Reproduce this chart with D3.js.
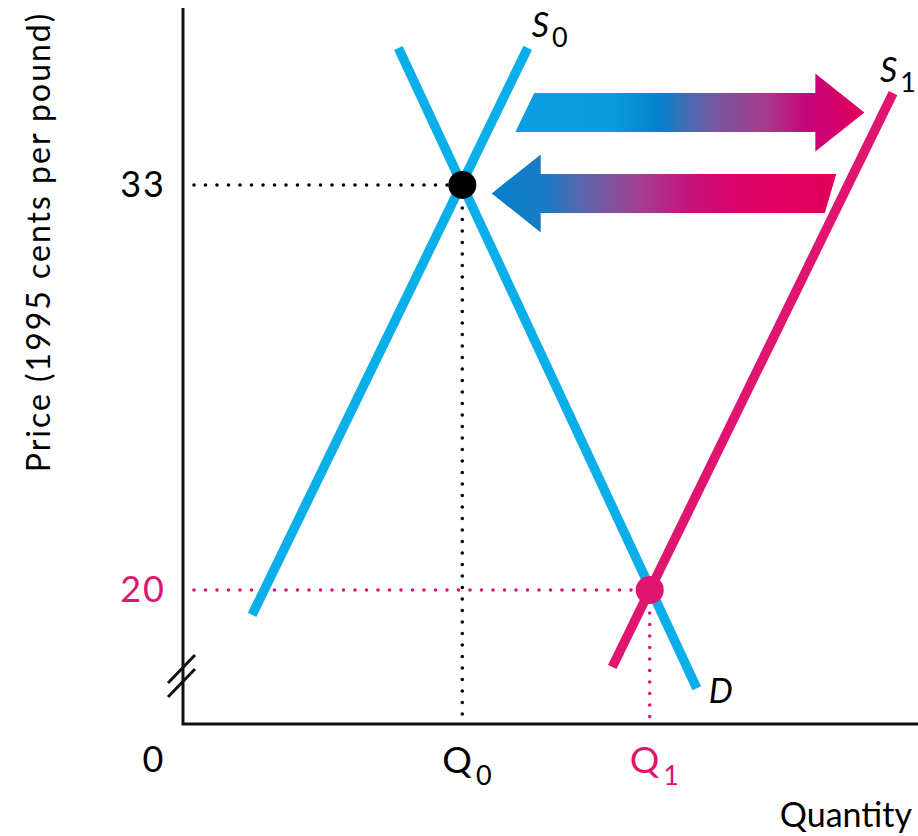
<!DOCTYPE html>
<html>
<head>
<meta charset="utf-8">
<script src="https://cdn.jsdelivr.net/npm/d3@7"></script>
<style>
  html, body { margin: 0; padding: 0; background: #fff; }
  svg { display: block; font-family: Lato, "Open Sans", sans-serif; }
</style>
</head>
<body>
<svg id="chart" width="918" height="836"></svg>
<script>
// Price axis tick labels and the two equilibria
const priceTicks = [33, 20];
const equilibria = [
  { name: "Q0", sub: "0", q: 3.8,  p: 33, color: "#000000" },
  { name: "Q1", sub: "1", q: 6.35, p: 20, color: "#e0156f" }
];

// Curves as [quantity, price] end points
const supply0 = [[0.94, 19.2], [4.69, 37.4]];
const demand  = [[2.93, 37.4], [6.99, 16.85]];
const supply1 = [[5.84, 17.53], [9.66, 35.95]];

// Shift arrows: tail quantity, tip quantity, price at the arrow's centre line
const arrowRight = { from: 4.65, to: 9.27, p: 35.33 };
const arrowLeft  = { from: 8.81, to: 4.20, p: 32.73 };

const cyan = "#0aaee8";
const pink = "#e0156f";

const svg = d3.select("#chart");

// Scales (price axis is broken below ~15.7)
const x = d3.scaleLinear().domain([0, 10]).range([183, 918]);
const y = d3.scaleLinear().domain([15.7, 38.68]).range([724, 8]);

// Gradients for the arrows
const defs = svg.append("defs");
function gradient(id, x1, x2, stops) {
  const g = defs.append("linearGradient").attr("id", id)
    .attr("gradientUnits", "userSpaceOnUse")
    .attr("x1", x1).attr("x2", x2).attr("y1", 0).attr("y2", 0);
  stops.forEach(([o, c]) => g.append("stop").attr("offset", o).attr("stop-color", c));
}
gradient("gradRight", x(arrowRight.from) - 10, x(arrowRight.to), [
  [0, "#0a9fe0"], [0.28, "#0a9be0"], [0.42, "#0580ca"], [0.48, "#3c70b6"],
  [0.58, "#7a55a0"], [0.72, "#a83a8a"], [0.84, "#c6037a"], [1, "#e3005c"]
]);
gradient("gradLeft", x(arrowLeft.to), x(arrowLeft.from) + 10, [
  [0, "#0580ca"], [0.16, "#1a7bc4"], [0.26, "#5a66ad"], [0.42, "#a24092"],
  [0.58, "#c80f7a"], [0.75, "#e00066"], [1, "#e3005a"]
]);

// Arrow outline: shaft with a slanted tail, triangular head
function arrowPath(a, slant) {
  const shaftH = 39, headH = 78, headL = 49;
  const cy = y(a.p), x0 = x(a.from), x1 = x(a.to);
  const dir = x1 > x0 ? 1 : -1;
  const base = x1 - dir * headL;
  const s = slant * shaftH / 2;
  const pts = [
    [x0 + s, cy - shaftH / 2],
    [base, cy - shaftH / 2],
    [base, cy - headH / 2],
    [x1, cy],
    [base, cy + headH / 2],
    [base, cy + shaftH / 2],
    [x0 - s, cy + shaftH / 2]
  ];
  return d3.line()(pts) + "Z";
}
// horizontal run per unit of vertical run along a curve
const slope = seg => (x(seg[1][0]) - x(seg[0][0])) / (y(seg[0][1]) - y(seg[1][1]));
svg.append("path").attr("d", arrowPath(arrowRight, slope(supply0))).attr("fill", "url(#gradRight)");
svg.append("path").attr("d", arrowPath(arrowLeft, slope(supply1) * 0.6)).attr("fill", "url(#gradLeft)");

// Dotted guide lines
const dotted = (x1, y1, x2, y2, color) => svg.append("line")
  .attr("x1", x1).attr("y1", y1).attr("x2", x2).attr("y2", y2)
  .attr("stroke", color).attr("stroke-width", 3.6)
  .attr("stroke-linecap", "round").attr("stroke-dasharray", "0 11.5");
equilibria.forEach(e => {
  dotted(194, y(e.p), x(e.q), y(e.p), e.color);
  dotted(x(e.q), y(e.p), x(e.q), y.range()[0], e.color);
});

// Curves
const line = d3.line().x(d => x(d[0])).y(d => y(d[1]));
[[supply0, cyan], [demand, cyan], [supply1, pink]].forEach(([d, c]) => {
  svg.append("path").attr("d", line(d)).attr("fill", "none")
    .attr("stroke", c).attr("stroke-width", 9.5);
});

// Equilibrium points
svg.selectAll("circle.eq").data(equilibria).join("circle")
  .attr("class", "eq")
  .attr("cx", d => x(d.q)).attr("cy", d => y(d.p)).attr("r", 14)
  .attr("fill", d => d.color);

// Axes
const axis = svg.append("g").attr("stroke", "#111").attr("stroke-width", 3).attr("fill", "none");
axis.append("path").attr("d", d3.line()([[x(0), y.range()[1]], [x(0), y.range()[0]], [918, y.range()[0]]]));
// axis break marks
[0, 14].forEach(off => {
  axis.append("line")
    .attr("x1", 168).attr("y1", 683 + off).attr("x2", 195).attr("y2", 655 + off);
});

// Tick labels on the price axis
const fs = 34;
svg.selectAll("text.tick").data(priceTicks).join("text")
  .attr("class", "tick")
  .attr("x", 166).attr("y", d => y(d) + 12)
  .attr("text-anchor", "end").attr("font-size", 36).attr("letter-spacing", 2)
  .attr("fill", (d, i) => equilibria[i].color)
  .text(d => d);

svg.append("text").attr("x", 153).attr("y", 772).attr("text-anchor", "middle")
  .attr("font-size", 36).text("0");

// Quantity labels with subscripts
equilibria.forEach(e => {
  const t = svg.append("text").attr("x", x(e.q) - 20).attr("y", 773)
    .attr("font-size", 37).attr("fill", e.color);
  t.append("tspan").text("Q");
  t.append("tspan").attr("dx", 4).attr("dy", 12).attr("font-size", 27).text(e.sub);
});

// Curve labels
function curveLabel(px, py, main, sub) {
  const t = svg.append("text").attr("x", px).attr("y", py)
    .attr("font-size", fs).attr("font-style", "italic");
  t.append("tspan").text(main);
  if (sub) t.append("tspan").attr("dx", 3).attr("dy", 10).attr("font-size", 27)
    .attr("font-style", "normal").text(sub);
}
curveLabel(x(supply0[1][0]) + 4, 37, "S", "0");
curveLabel(x(supply1[1][0]) - 13, 82, "S", "1");
curveLabel(x(demand[1][0]) + 12, 703, "D", null);

// Axis titles
svg.append("text").attr("x", 912).attr("y", 827).attr("text-anchor", "end")
  .attr("font-size", fs).text("Quantity");
svg.append("text").attr("transform", "translate(50,242) rotate(-90)")
  .attr("text-anchor", "middle").attr("font-size", 32).attr("letter-spacing", 2)
  .text("Price (1995 cents per pound)");
</script>
</body>
</html>
